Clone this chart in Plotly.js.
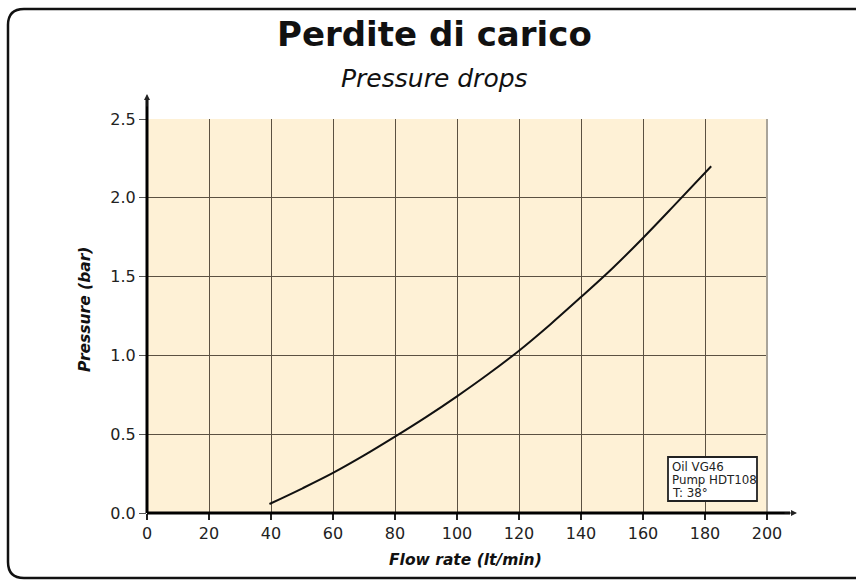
<!DOCTYPE html>
<html>
<head>
<meta charset="utf-8">
<script src="https://cdn.plot.ly/plotly-3.0.1.min.js"></script>
<style>
html,body{margin:0;padding:0;background:#fff;}
#chart{width:856px;height:581px;}
</style>
</head>
<body>
<div id="chart"></div>
<script>
// Data
const flowRate = [39.5, 50, 60, 70, 80, 90, 100, 110, 120, 130, 140, 150, 160, 170, 182];
const pressure = [0.057, 0.155, 0.254, 0.365, 0.484, 0.608, 0.740, 0.880, 1.03, 1.195, 1.37, 1.55, 1.745, 1.95, 2.2];
const xTicks = [0, 20, 40, 60, 80, 100, 120, 140, 160, 180, 200];
const yTicks = [0, 0.5, 1.0, 1.5, 2.0, 2.5];
const yTickLabels = ["0.0", "0.5", "1.0", "1.5", "2.0", "2.5"];
const titleText = "Perdite di carico";
const subtitleText = "Pressure drops";
const xTitle = "Flow rate (lt/min)";
const yTitle = "Pressure (bar)";
const noteLines = ["Oil VG46", "Pump HDT108", "T: 38°"];

const FONT = "'DejaVu Sans', sans-serif";
const W = 856, H = 581;
const L = 147, R = 767, T = 119, B = 513;
const pw = R - L, ph = B - T;
const px = v => (v - L) / pw;
const py = v => (B - v) / ph;

// rounded outer frame in paper coords
const fx0 = px(8), fx1 = px(878), fy0 = py(9), fy1 = py(578);
const rx = 16 / pw, ry = 16 / ph;
const framePath =
  `M ${fx0} ${fy0 - ry} L ${fx0} ${fy1 + ry} Q ${fx0} ${fy1} ${fx0 + rx} ${fy1} ` +
  `L ${fx1 - rx} ${fy1} Q ${fx1} ${fy1} ${fx1} ${fy1 + ry} L ${fx1} ${fy0 - ry} ` +
  `Q ${fx1} ${fy0} ${fx1 - rx} ${fy0} L ${fx0 + rx} ${fy0} Q ${fx0} ${fy0} ${fx0} ${fy0 - ry} Z`;

const trace = {
  x: flowRate, y: pressure, type: 'scatter', mode: 'lines',
  line: {color: '#111', width: 2, shape: 'spline', smoothing: 1},
  hoverinfo: 'x+y', showlegend: false
};

const noteY = [467, 480, 493];
const noteAnns = noteLines.map((t, i) => ({
  xref: 'paper', yref: 'paper', x: px(669.5), y: py(noteY[i]), text: t, align: 'left',
  showarrow: false, xanchor: 'left', yanchor: 'middle',
  font: {family: FONT, size: 11.8, color: '#222'}
}));

const layout = {
  width: W, height: H,
  margin: {l: L, r: W - R, t: T, b: H - B, pad: 0},
  paper_bgcolor: '#ffffff',
  plot_bgcolor: '#fef1d6',
  showlegend: false,
  font: {family: FONT, color: '#222', size: 16},
  xaxis: {
    range: [0, 200], tickvals: xTicks, ticktext: xTicks.map(String),
    showgrid: true, gridcolor: '#5b5142', gridwidth: 1,
    zeroline: false, showline: false,
    ticks: 'outside', ticklen: 6, tickcolor: '#222', tickwidth: 1.5,
    tickfont: {family: FONT, size: 16, color: '#222'}, fixedrange: true
  },
  yaxis: {
    range: [0, 2.5], tickvals: yTicks, ticktext: yTickLabels,
    showgrid: true, gridcolor: '#5b5142', gridwidth: 1,
    zeroline: false, showline: false,
    ticks: 'outside', ticklen: 7, tickcolor: '#555', tickwidth: 1,
    tickfont: {family: FONT, size: 16, color: '#222'}, fixedrange: true
  },
  shapes: [
    {type: 'path', xref: 'paper', yref: 'paper', path: framePath,
     line: {color: '#111', width: 2.5}, fillcolor: 'rgba(0,0,0,0)', layer: 'below'},
    {type: 'line', xref: 'paper', yref: 'paper', x0: 1, x1: 1, y0: 0, y1: 1,
     line: {color: '#a9a49a', width: 2}},
    {type: 'line', xref: 'paper', yref: 'paper', x0: 0, x1: px(790), y0: 0, y1: 0,
     line: {color: '#000', width: 3}},
    {type: 'line', xref: 'paper', yref: 'paper', x0: 0, x1: 0, y0: 0, y1: py(100),
     line: {color: '#000', width: 3}},
    {type: 'rect', xref: 'paper', yref: 'paper', x0: px(668), x1: px(757), y0: py(501), y1: py(457),
     line: {color: '#222', width: 1.8}, fillcolor: '#ffffff'}
  ],
  annotations: [
    {xref: 'paper', yref: 'paper', x: px(434), y: py(34), text: '<b>' + titleText + '</b>',
     showarrow: false, font: {family: FONT, size: 34, color: '#111'}, xanchor: 'center', yanchor: 'middle'},
    {xref: 'paper', yref: 'paper', x: px(434), y: py(79), text: '<i>' + subtitleText + '</i>',
     showarrow: false, font: {family: FONT, size: 25, color: '#111'}, xanchor: 'center', yanchor: 'middle'},
    {xref: 'paper', yref: 'paper', x: px(465), y: py(560), text: '<b><i>' + xTitle + '</i></b>',
     showarrow: false, font: {family: FONT, size: 15.5, color: '#111'}, xanchor: 'center', yanchor: 'middle'},
    {xref: 'paper', yref: 'paper', x: px(85), y: py(310), text: '<b><i>' + yTitle + '</i></b>',
     showarrow: false, textangle: -90, font: {family: FONT, size: 15.5, color: '#111'}, xanchor: 'center', yanchor: 'middle'},
    ...noteAnns,
    // arrow heads
    {xref: 'paper', yref: 'paper', x: px(797), y: 0, ax: -14, ay: 0, axref: 'pixel', ayref: 'pixel',
     text: '', showarrow: true, arrowhead: 2, arrowsize: 1, arrowwidth: 1.2, arrowcolor: '#222'},
    {xref: 'paper', yref: 'paper', x: 0, y: py(94), ax: 0, ay: 14, axref: 'pixel', ayref: 'pixel',
     text: '', showarrow: true, arrowhead: 2, arrowsize: 1, arrowwidth: 1.2, arrowcolor: '#222'}
  ]
};

Plotly.newPlot('chart', [trace], layout, {displayModeBar: false, staticPlot: true});
</script>
</body>
</html>
